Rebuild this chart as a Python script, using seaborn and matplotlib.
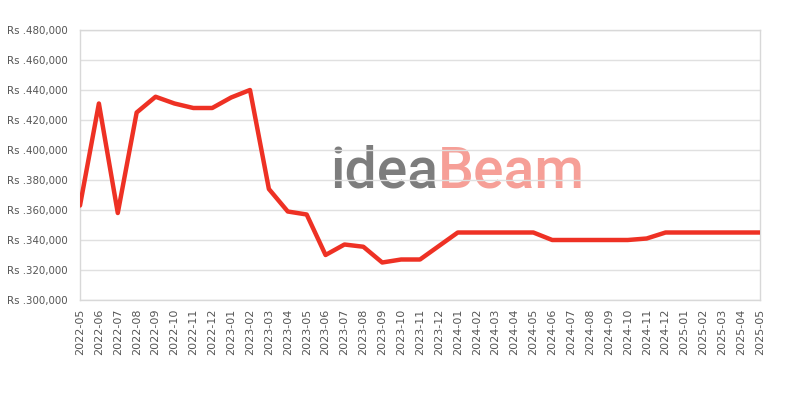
import numpy as np
import pandas as pd
import seaborn as sns
import matplotlib.pyplot as plt
from matplotlib.ticker import FuncFormatter

sns.set_style("white")
plt.rcParams['font.family'] = ['DejaVu Sans']

months = ["2022-05", "2022-06", "2022-07", "2022-08", "2022-09", "2022-10",
          "2022-11", "2022-12", "2023-01", "2023-02", "2023-03", "2023-04",
          "2023-05", "2023-06", "2023-07", "2023-08", "2023-09", "2023-10",
          "2023-11", "2023-12", "2024-01", "2024-02", "2024-03", "2024-04",
          "2024-05", "2024-06", "2024-07", "2024-08", "2024-09", "2024-10",
          "2024-11", "2024-12", "2025-01", "2025-02", "2025-03", "2025-04",
          "2025-05"]
prices = [363000, 431000, 358000, 425000, 435500, 431000,
          428000, 428000, 435000, 440000, 374000, 359000,
          357000, 330000, 337000, 335500, 325000, 327000,
          327000, 336000, 345000, 345000, 345000, 345000,
          345000, 340000, 340000, 340000, 340000, 340000,
          341000, 345000, 345000, 345000, 345000, 345000,
          345000]
y_ticks = [300000, 320000, 340000, 360000, 380000, 400000, 420000, 440000,
           460000, 480000]

df = pd.DataFrame({"month": months, "price": prices})

fig = plt.figure(figsize=(8, 4), dpi=100)
ax = fig.add_axes([0.1, 0.25, 0.85, 0.675])

# watermark
wm_font = ['Roboto', 'DejaVu Sans']
ax.text(0.527, 0.415, "idea", transform=ax.transAxes, ha="right", va="baseline",
        fontsize=41, fontweight="medium", family=wm_font, color="#7d7d7d", zorder=0)
ax.text(0.527, 0.415, "Beam", transform=ax.transAxes, ha="left", va="baseline",
        fontsize=41, fontweight="medium", family=wm_font, color="#f69f97", zorder=0)

sns.lineplot(data=df, x="month", y="price", ax=ax, color="#ee3124",
             linewidth=3.2, zorder=3)

ax.set_xlim(0, len(months) - 1)
ax.set_ylim(300000, 480000)
ax.set_yticks(y_ticks)
ax.yaxis.set_major_formatter(FuncFormatter(lambda v, p: "Rs .{:,.0f}".format(v)))
ax.set_xticks(range(len(months)))
ax.set_xticklabels(months, rotation=90)
ax.tick_params(axis="x", labelsize=8, colors="#555555", length=0, pad=6)
ax.tick_params(axis="y", labelsize=7.4, colors="#555555", length=0, pad=9)
ax.grid(axis="y", color="#e0e0e0", linewidth=1, zorder=1)
ax.set_axisbelow(True)
for s in ax.spines.values():
    s.set_color("#d8d8d8")
    s.set_linewidth(1)
ax.set_xlabel("")
ax.set_ylabel("")

plt.savefig("out.png", dpi=100)
